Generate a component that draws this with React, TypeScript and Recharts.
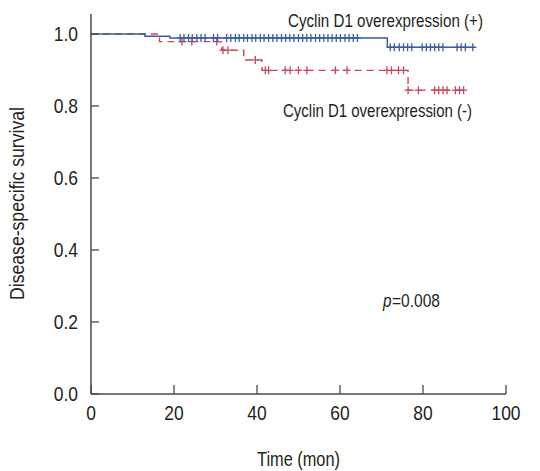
import React from 'react';
import { ComposedChart, Line, Scatter, XAxis, YAxis } from 'recharts';

// Kaplan-Meier steps (time in months, survival)
const posSteps = [
  { t: 0, s: 1.0 },
  { t: 13, s: 0.994 },
  { t: 19, s: 0.989 },
  { t: 71.4, s: 0.963 },
  { t: 92.6, s: 0.963 },
];
const negSteps = [
  { t: 0, s: 1.0 },
  { t: 16.5, s: 0.979 },
  { t: 31.5, s: 0.955 },
  { t: 36.8, s: 0.928 },
  { t: 41.2, s: 0.899 },
  { t: 76.4, s: 0.844 },
  { t: 90.2, s: 0.844 },
];

// censored observations (months)
const posCensored = [
  21.5, 22.4, 23.5, 24.4, 25.5, 26.5, 27.5, 29.5, 30.5, 32.7, 33.7, 34.8, 35.7, 36.8,
  37.7, 38.8, 39.7, 40.8, 41.7, 42.8, 43.8, 44.8, 45.9, 46.9, 47.9, 48.9, 50.0, 51.0,
  52.0, 53.0, 54.1, 55.1, 56.1, 57.1, 58.1, 59.1, 60.1, 61.2, 62.2, 63.2, 64.2,
  72.1, 73.1, 74.3, 75.3, 76.3, 77.3, 79.8, 80.8, 81.8, 82.8, 83.8, 84.8,
  88.2, 89.2, 90.2, 92.0,
];
const negCensored = [
  21.9, 24.3, 30.3, 31.8, 33.0, 39.6, 42.0, 42.8, 46.8, 48.0, 50.0, 52.0, 58.9, 61.7,
  71.3, 72.4, 74.1, 75.3, 76.4, 78.9, 82.8, 83.8, 84.8, 85.8, 87.8, 88.8, 89.8,
];

const xTicks = [0, 20, 40, 60, 80, 100];
const yTicks = [0, 0.2, 0.4, 0.6, 0.8, 1.0];

const levelAt = (steps: { t: number; s: number }[], t: number) => {
  let s = steps[0].s;
  for (const p of steps) if (p.t <= t) s = p.s;
  return s;
};

const BLUE = '#3a5ea3';
const RED = '#c8485e';
const AXIS = '#4a4a4a';
const TXT = '#231f20';
const FONT = "'Liberation Sans', Arial, sans-serif";
const TICK_FS = 20.5;
const SQUEEZE = 0.85;

const Plus = (color: string) => (props: any) => {
  const { cx, cy } = props;
  if (cx == null || cy == null) return null;
  return (
    <g stroke={color} strokeWidth={1.3}>
      <line x1={cx} y1={cy - 4} x2={cx} y2={cy + 4} />
      <line x1={cx - 3.5} y1={cy} x2={cx + 3.5} y2={cy} />
    </g>
  );
};

// condensed-looking tick labels
const XTick = (props: any) => {
  const { x, y, payload } = props;
  return (
    <text transform={`translate(${x},${y + 0.71 * TICK_FS}) scale(${SQUEEZE},1)`}
      textAnchor="middle" fontFamily={FONT} fontSize={TICK_FS} fill={TXT}>
      {payload.value}
    </text>
  );
};
const YTick = (props: any) => {
  const { x, y, payload } = props;
  return (
    <text transform={`translate(${x},${y + 0.355 * TICK_FS}) scale(${SQUEEZE},1)`}
      textAnchor="end" fontFamily={FONT} fontSize={TICK_FS} fill={TXT}>
      {Number(payload.value).toFixed(1)}
    </text>
  );
};

export default function App() {
  const posMarks = posCensored.map(t => ({ t, s: levelAt(posSteps, t) }));
  const negMarks = negCensored.map(t => ({ t, s: levelAt(negSteps, t) }));

  return (
    <div style={{ position: 'absolute', left: 0, top: 0, width: 540, height: 471, background: '#fff' }}>
      <ComposedChart width={540} height={471} margin={{ top: 14, right: 34, left: 0, bottom: 0 }}>
        <XAxis
          dataKey="t" type="number" domain={[0, 100]} ticks={xTicks} height={77}
          tickSize={-9} tickMargin={20} tick={<XTick />}
          axisLine={{ stroke: AXIS, strokeWidth: 1.5 }} tickLine={{ stroke: AXIS, strokeWidth: 1.3 }}
        />
        <YAxis
          dataKey="s" type="number" domain={[0, 1.0556]} ticks={yTicks} width={91}
          tickSize={-8} tickMargin={21} tick={<YTick />} allowDataOverflow
          axisLine={{ stroke: AXIS, strokeWidth: 1.5 }} tickLine={{ stroke: AXIS, strokeWidth: 1.3 }}
        />
        <Line data={negSteps} dataKey="s" type="stepAfter" stroke={RED} strokeWidth={1.4}
          strokeDasharray="7 5" dot={false} isAnimationActive={false} />
        <Line data={posSteps} dataKey="s" type="stepAfter" stroke={BLUE} strokeWidth={1.5}
          dot={false} isAnimationActive={false} />
        <Scatter data={negMarks} dataKey="s" shape={Plus(RED)} isAnimationActive={false} />
        <Scatter data={posMarks} dataKey="s" shape={Plus(BLUE)} isAnimationActive={false} />
      </ComposedChart>
      <svg width={540} height={471} style={{ position: 'absolute', left: 0, top: 0, pointerEvents: 'none' }}>
        <g fontFamily={FONT} fill={TXT}>
          <text x={288} y={26.5} fontSize={18.5} textLength={195} lengthAdjust="spacingAndGlyphs">
            Cyclin D1 overexpression (+)
          </text>
          <text x={283} y={116.5} fontSize={18.5} textLength={189} lengthAdjust="spacingAndGlyphs">
            Cyclin D1 overexpression (-)
          </text>
          <text x={383} y={307} fontSize={18.5} fontStyle="italic" textLength={8.5}
            lengthAdjust="spacingAndGlyphs">p</text>
          <text x={392} y={307} fontSize={18.5} textLength={48} lengthAdjust="spacingAndGlyphs">
            =0.008
          </text>
          <text x={257} y={466} fontSize={20} textLength={83} lengthAdjust="spacingAndGlyphs">
            Time (mon)
          </text>
          <text x={24} y={300} fontSize={20} textLength={193} lengthAdjust="spacingAndGlyphs"
            transform="rotate(-90 24 300)">
            Disease-specific survival
          </text>
        </g>
      </svg>
    </div>
  );
}
